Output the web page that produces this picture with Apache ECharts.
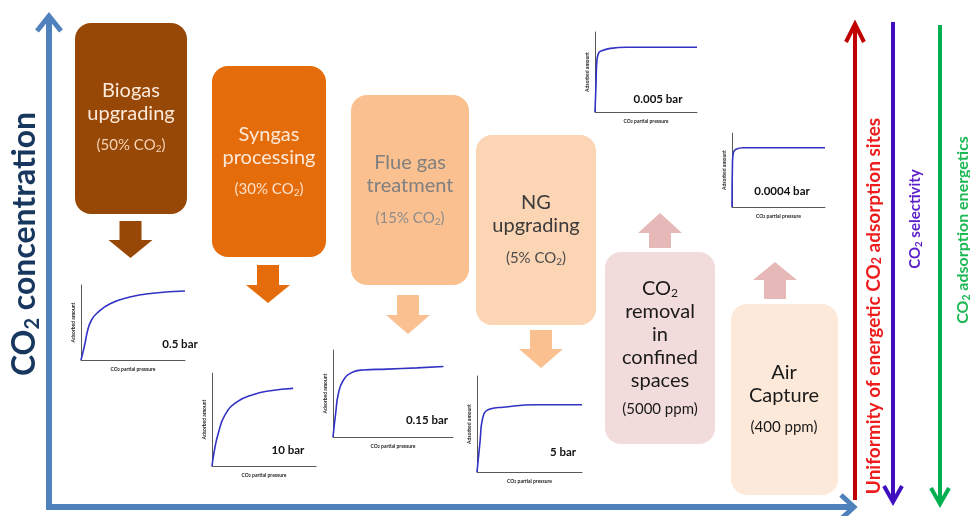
<!DOCTYPE html>
<html>
<head>
<meta charset="utf-8">
<script src="https://cdn.jsdelivr.net/npm/echarts@6/dist/echarts.min.js"></script>
<style>
html, body { margin: 0; padding: 0; background: #fff; }
#chart { width: 970px; height: 516px; }
</style>
</head>
<body>
<div id="chart"></div>
<script>
// isotherms: [CO2 partial pressure, adsorbed amount], both on a 0..10 scale
var isoBiogas = [[0, 0], [0.35, 2.0], [0.65, 4.0], [1.0, 5.3], [1.5, 6.2], [2.8, 7.5], [4.7, 8.4], [6.9, 8.9], [10, 9.2]]
var isoSyngas = [[0, 0], [0.25, 1.8], [0.6, 3.5], [1.25, 5.5], [2.4, 6.9], [4.0, 7.7], [5.6, 8.1], [7.8, 8.35]]
var isoFlue = [[0, 0], [0.22, 2.7], [0.45, 5.0], [0.85, 6.5], [1.55, 7.4], [2.5, 7.7], [4.5, 7.8], [7.0, 7.95], [9.2, 8.1]]
var isoNG = [[0, 0], [0.3, 3.3], [0.5, 5.4], [1.1, 6.5], [2.5, 6.75], [5.7, 7.0], [10, 7.0]]
var isoConfined = [[0, 0], [0.1, 3.5], [0.17, 6.1], [0.33, 7.3], [0.66, 7.65], [1.5, 7.95], [3.1, 8.1], [10, 8.1]]
var isoAir = [[0, 0], [0.05, 5.9], [0.14, 7.3], [0.43, 7.8], [1.2, 8.0], [10, 8.0]]

var isotherms = [isoBiogas, isoSyngas, isoFlue, isoNG, isoConfined, isoAir]
var pressureLabels = ['0.5 bar', '10 bar', '0.15 bar', '5 bar', '0.005 bar', '0.0004 bar']
var processNames = ['Biogas\nupgrading', 'Syngas\nprocessing', 'Flue gas\ntreatment', 'NG\nupgrading',
  '{t|CO}{s|2}\nremoval\nin\nconfined\nspaces', 'Air\nCapture']
var processConc = ['(50% CO{u|2})', '(30% CO{u|2})', '(15% CO{u|2})', '(5% CO{u|2})', '(5000 ppm)', '(400 ppm)']

var FONT = 'Lato, "Open Sans", sans-serif'

// small isotherm plots
var grids = [
  { left: 81, top: 285, width: 104, height: 75 },
  { left: 212, top: 373, width: 104, height: 93 },
  { left: 333, top: 350, width: 120, height: 87 },
  { left: 477, top: 376, width: 105, height: 96 },
  { left: 595, top: 32, width: 102, height: 80 },
  { left: 732, top: 133, width: 93, height: 74 }
]
// where the "x bar" text sits (centre)
var barLabelPos = [[180, 344], [288, 450], [427, 420], [563, 452], [658, 99], [782, 191]]

// process boxes
var boxes = [
  { x: 75, y: 23, w: 112, h: 191, fill: '#974806', color: '#fde9d9', sub: '#f6d2b5', cx: 131, line1: 91, conc: 145 },
  { x: 212, y: 66, w: 114, h: 191, fill: '#e46c0a', color: '#fde9d9', sub: '#fbe0c8', cx: 269, line1: 135, conc: 189 },
  { x: 351, y: 95, w: 118, h: 190, fill: '#fac090', color: '#7f7f7f', sub: '#8c8c8c', cx: 410, line1: 163, conc: 218 },
  { x: 476, y: 135, w: 120, h: 190, fill: '#fcd5b5', color: '#3a3a3a', sub: '#4a4a4a', cx: 536, line1: 203, conc: 258 },
  { x: 605, y: 252, w: 110, h: 192, fill: '#f2dcdb', color: '#1a1a1a', sub: '#1a1a1a', cx: 660, line1: 289, conc: 409 },
  { x: 731, y: 304, w: 107, h: 191, fill: '#fde9d9', color: '#1a1a1a', sub: '#1a1a1a', cx: 784, line1: 373, conc: 427 }
]
var downArrows = [
  { cx: 130.5, top: 221, hb: 240, tip: 258, fill: '#974806' },
  { cx: 268, top: 265, hb: 285, tip: 303, fill: '#e46c0a' },
  { cx: 408, top: 295, hb: 315, tip: 334, fill: '#fac090' },
  { cx: 541, top: 330, hb: 349, tip: 368, fill: '#fac090' }
]
var upArrows = [
  { cx: 660, bottom: 248, hb: 233, tip: 213, fill: '#e6b9b8' },
  { cx: 775, bottom: 299, hb: 280, tip: 262, fill: '#e6b9b8' }
]

function downArrow (a) {
  return [[a.cx - 11, a.top], [a.cx + 11, a.top], [a.cx + 11, a.hb], [a.cx + 22, a.hb], [a.cx, a.tip],
    [a.cx - 22, a.hb], [a.cx - 11, a.hb]]
}
function upArrow (a) {
  return [[a.cx - 11, a.bottom], [a.cx + 11, a.bottom], [a.cx + 11, a.hb], [a.cx + 22, a.hb], [a.cx, a.tip],
    [a.cx - 22, a.hb], [a.cx - 11, a.hb]]
}
function line (pts, color, w) {
  return { type: 'polyline', shape: { points: pts }, style: { stroke: color, lineWidth: w, fill: null, lineJoin: 'miter' } }
}
function vText (x, y, text, size, color, rich) {
  return {
    type: 'text', x: x, y: y, rotation: Math.PI / 2,
    style: {
      text: text, fill: color, fontSize: size, fontWeight: 'bold', fontFamily: FONT,
      align: 'center', verticalAlign: 'middle', textAlign: 'center', textVerticalAlign: 'middle', rich: rich
    }
  }
}

var graphic = []
boxes.forEach(function (b, i) {
  graphic.push({ type: 'rect', shape: { x: b.x, y: b.y, width: b.w, height: b.h, r: 16 }, style: { fill: b.fill } })
  graphic.push({
    type: 'text', x: b.cx, y: b.line1 - 11.5,
    style: {
      text: processNames[i], fill: b.color, fontSize: 20, fontFamily: FONT, lineHeight: 23,
      align: 'center', verticalAlign: 'top', textAlign: 'center', textVerticalAlign: 'top',
      rich: {
        t: { fontSize: 20, fontFamily: FONT, fill: b.color, color: b.color, lineHeight: 23 },
        s: { fontSize: 12, fontFamily: FONT, fill: b.color, color: b.color, lineHeight: 23, padding: [9, 0, 0, 0] }
      }
    }
  })
  graphic.push({
    type: 'text', x: b.cx, y: b.conc,
    style: {
      text: processConc[i], fill: b.sub, fontSize: 15, fontFamily: FONT,
      align: 'center', verticalAlign: 'middle', textAlign: 'center', textVerticalAlign: 'middle',
      rich: { u: { fontSize: 10, fontFamily: FONT, fill: b.sub, color: b.sub, padding: [7, 0, 0, 0] } }
    }
  })
})
downArrows.forEach(function (a) {
  graphic.push({ type: 'polygon', shape: { points: downArrow(a) }, style: { fill: a.fill } })
})
upArrows.forEach(function (a) {
  graphic.push({ type: 'polygon', shape: { points: upArrow(a) }, style: { fill: a.fill } })
})
pressureLabels.forEach(function (t, i) {
  graphic.push({
    type: 'text', x: barLabelPos[i][0], y: barLabelPos[i][1],
    style: {
      text: t, fill: '#111', fontSize: 11.5, fontWeight: 'bold', fontFamily: FONT,
      align: 'center', verticalAlign: 'middle', textAlign: 'center', textVerticalAlign: 'middle'
    }
  })
})

// big CO2 concentration axes
graphic.push(line([[49, 17], [49, 507], [852, 507]], '#4f81bd', 6))
graphic.push(line([[37, 31], [49, 16], [61, 31]], '#4f81bd', 5))
graphic.push(line([[841, 495], [854, 507], [841, 519]], '#4f81bd', 5))
graphic.push(vText(25, 244, '{a|CO}{b|2}{a| concentration}', 32, '#17375e', {
  a: { fontSize: 32, fontWeight: 'bold', fontFamily: FONT, fill: '#17375e', color: '#17375e' },
  b: { fontSize: 20, fontWeight: 'bold', fontFamily: FONT, fill: '#17375e', color: '#17375e', padding: [15, 0, 0, 0] }
}))

// trend arrows on the right
graphic.push(line([[855, 500], [855, 25]], '#c00000', 4))
graphic.push(line([[846, 42], [855, 24], [864, 42]], '#c00000', 4))
graphic.push(line([[893, 22], [893, 500]], '#3f0fbf', 4))
graphic.push(line([[884, 486], [893, 502], [902, 486]], '#3f0fbf', 4))
graphic.push(line([[940, 25], [940, 502]], '#00b050', 4))
graphic.push(line([[931, 488], [940, 504], [949, 488]], '#00b050', 4))

function subRich (color, size) {
  return {
    a: { fontSize: size, fontWeight: 'bold', fontFamily: FONT, fill: color, color: color },
    b: { fontSize: size * 0.65, fontWeight: 'bold', fontFamily: FONT, fill: color, color: color, padding: [7, 0, 0, 0] }
  }
}
graphic.push(vText(874, 306, '{a|Uniformity of energetic CO}{b|2}{a| adsorption sites}', 19, '#ee1c1c', subRich('#ee1c1c', 19)))
graphic.push(vText(915, 219, '{a|CO}{b|2}{a| selectivity}', 15, '#5b1fc9', subRich('#5b1fc9', 15)))
graphic.push(vText(963, 230, '{a|CO}{b|2}{a| adsorption energetics}', 16, '#1db954', subRich('#1db954', 16)))

var axisLine = { show: true, lineStyle: { color: '#595959', width: 1 } }
var option = {
  animation: false,
  backgroundColor: '#fff',
  grid: grids,
  xAxis: grids.map(function (g, i) {
    return {
      gridIndex: i, type: 'value', min: 0, max: 10,
      axisLine: axisLine, axisTick: { show: false }, axisLabel: { show: false }, splitLine: { show: false },
      name: '{n|CO}{s|2}{n| partial pressure}', nameLocation: 'middle', nameGap: 6,
      nameTextStyle: {
        rich: {
          n: { fontSize: 5, fontWeight: 'bold', color: '#222', fontFamily: FONT },
          s: { fontSize: 3.5, fontWeight: 'bold', color: '#222', fontFamily: FONT, padding: [2, 0, 0, 0] }
        }
      }
    }
  }),
  yAxis: grids.map(function (g, i) {
    return {
      gridIndex: i, type: 'value', min: 0, max: 10,
      axisLine: axisLine, axisTick: { show: false }, axisLabel: { show: false }, splitLine: { show: false },
      name: 'Adsorbed amount', nameLocation: 'middle', nameGap: 5,
      nameTextStyle: { fontSize: 5, fontWeight: 'bold', color: '#222', fontFamily: FONT }
    }
  }),
  series: isotherms.map(function (d, i) {
    return {
      type: 'line', xAxisIndex: i, yAxisIndex: i, data: d,
      smooth: 0.5, showSymbol: false, silent: true,
      lineStyle: { color: '#3232c4', width: 1.6 }
    }
  }),
  graphic: { elements: graphic }
}

var chart = echarts.init(document.getElementById('chart'), null, { renderer: 'canvas' })
chart.setOption(option)
</script>
</body>
</html>
